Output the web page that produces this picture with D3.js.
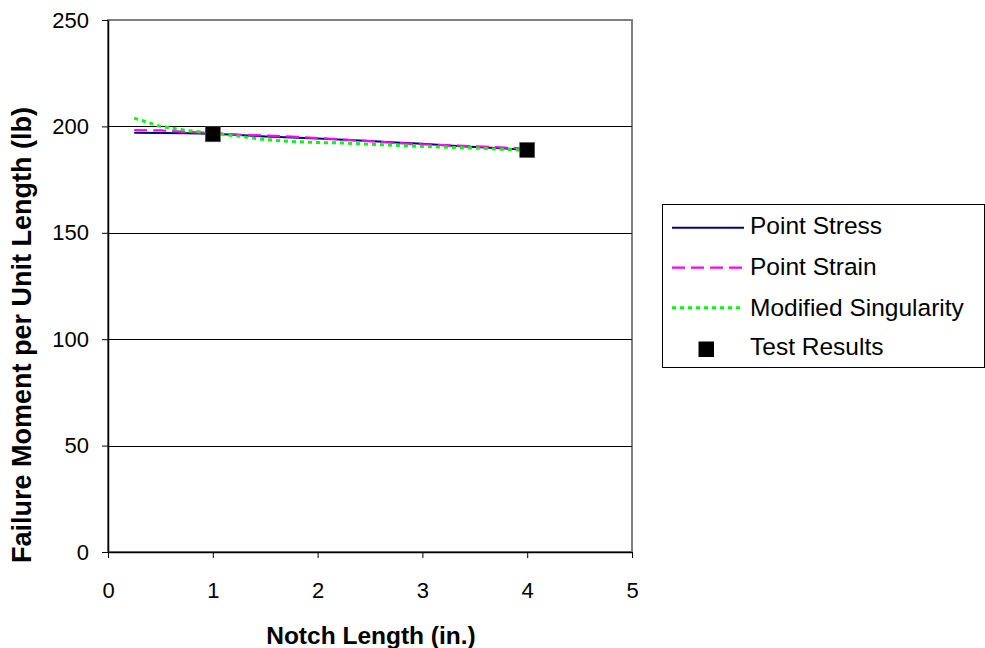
<!DOCTYPE html>
<html>
<head>
<meta charset="utf-8">
<script src="https://cdn.jsdelivr.net/npm/d3@7"></script>
<style>
  body { margin: 0; background: #fff; }
  svg { display: block; font-family: "Liberation Sans", Arial, sans-serif; }
</style>
</head>
<body>
<svg id="chart" width="985" height="648"></svg>
<script>
// Notch length (in.) sampled by the models
const notch = [0.25, 0.5, 0.75, 1, 1.25, 1.5, 1.75, 2, 2.25, 2.5, 2.75, 3, 3.25, 3.5, 3.75, 4];
const pointStress = [197.0, 196.9, 196.8, 196.6, 196.0, 195.3, 194.8, 194.3, 193.7, 193.1, 192.4, 191.8, 191.0, 190.3, 189.7, 189.0];
const pointStrain = [198.3, 198.1, 197.4, 196.9, 196.1, 195.7, 195.2, 194.5, 193.8, 193.1, 192.2, 191.6, 191.1, 190.6, 190.1, 189.5];
const modSingularity = [203.9, 200.0, 198.1, 196.8, 195.4, 193.8, 192.9, 192.4, 192.2, 191.6, 191.1, 190.6, 190.2, 189.9, 189.3, 188.8];
// Measured failure moments
const testNotch = [1, 4];
const testMoment = [196.3, 188.9];

const xTicks = [0, 1, 2, 3, 4, 5];
const yTicks = [0, 50, 100, 150, 200, 250];

const legendLabels = ["Point Stress", "Point Strain", "Modified Singularity", "Test Results"];

const svg = d3.select("#chart");
const m = { left: 108, top: 20, right: 632, bottom: 552 };

const x = d3.scaleLinear().domain([0, 5]).range([m.left, m.right]);
const y = d3.scaleLinear().domain([0, 250]).range([m.bottom, m.top]);

// plot frame (top/right in gray)
svg.append("rect")
  .attr("x", m.left).attr("y", m.top)
  .attr("width", m.right - m.left).attr("height", m.bottom - m.top)
  .attr("fill", "#fff").attr("stroke", "#808080").attr("stroke-width", 2);

// horizontal gridlines
svg.append("g").selectAll("line")
  .data(yTicks.filter(d => d > 0 && d < 250))
  .join("line")
  .attr("x1", m.left).attr("x2", m.right)
  .attr("y1", d => Math.round(y(d)) + 0.5).attr("y2", d => Math.round(y(d)) + 0.5)
  .attr("stroke", "#000").attr("stroke-width", 1);

// axes
const xAxis = svg.append("g")
  .attr("transform", `translate(0,${m.bottom})`)
  .call(d3.axisBottom(x).tickValues(xTicks).tickFormat(d3.format("d")).tickSizeOuter(0).tickSizeInner(6).tickPadding(24));
const yAxis = svg.append("g")
  .attr("transform", `translate(${m.left},0)`)
  .call(d3.axisLeft(y).tickValues(yTicks).tickFormat(d3.format("d")).tickSizeOuter(0).tickSizeInner(6).tickPadding(13));

[xAxis, yAxis].forEach(g => {
  g.select(".domain").attr("stroke", "#000").attr("stroke-width", 1.5);
  g.selectAll(".tick line").attr("stroke", "#000");
  g.selectAll(".tick text").attr("fill", "#000").style("font-size", "22px")
    .style("font-family", "'Liberation Sans', Arial, sans-serif");
});

// axis titles
svg.append("text")
  .attr("x", 371).attr("y", 643.5)
  .attr("text-anchor", "middle")
  .style("font-size", "24.5px").style("font-weight", "bold")
  .text("Notch Length (in.)");
svg.append("text")
  .attr("transform", `translate(31,335) rotate(-90)`)
  .attr("text-anchor", "middle")
  .style("font-size", "27px").style("font-weight", "bold")
  .text("Failure Moment per Unit Length (lb)");

// model curves
const line = d3.line().x((d, i) => x(notch[i])).y(d => y(d));
const series = [
  { values: pointStress, color: "#000080", dash: null, width: 2 },
  { values: pointStrain, color: "#ff00ff", dash: "13,6", width: 2.2 },
  { values: modSingularity, color: "#00ff00", dash: "4,4", width: 3 }
];
series.forEach(s => {
  svg.append("path")
    .datum(s.values)
    .attr("d", line)
    .attr("fill", "none")
    .attr("stroke", s.color)
    .attr("stroke-width", s.width)
    .attr("stroke-dasharray", s.dash);
});

// test results
svg.append("g").selectAll("rect")
  .data(testMoment)
  .join("rect")
  .attr("x", (d, i) => x(testNotch[i]) - 7.5)
  .attr("y", d => y(d) - 7.5)
  .attr("width", 15).attr("height", 15)
  .attr("fill", "#000").attr("stroke", "#555").attr("stroke-width", 0.6);

// legend
const lg = svg.append("g");
lg.append("rect")
  .attr("x", 662.5).attr("y", 204.5).attr("width", 322).attr("height", 163)
  .attr("fill", "#fff").attr("stroke", "#000").attr("stroke-width", 1);
const rowY = [227.7, 267.7, 307.7, 349];
series.forEach((s, i) => {
  lg.append("line")
    .attr("x1", 672).attr("x2", 744)
    .attr("y1", rowY[i]).attr("y2", rowY[i])
    .attr("stroke", s.color).attr("stroke-width", s.width)
    .attr("stroke-dasharray", s.dash);
});
lg.append("rect")
  .attr("x", 698.5).attr("y", rowY[3] - 7.5).attr("width", 15.5).attr("height", 15.5)
  .attr("fill", "#000");
const baseY = [234, 275, 316, 355];
legendLabels.forEach((t, i) => {
  lg.append("text")
    .attr("x", 750).attr("y", baseY[i])
    .style("font-size", "24.5px").attr("fill", "#000")
    .text(t);
});
</script>
</body>
</html>
